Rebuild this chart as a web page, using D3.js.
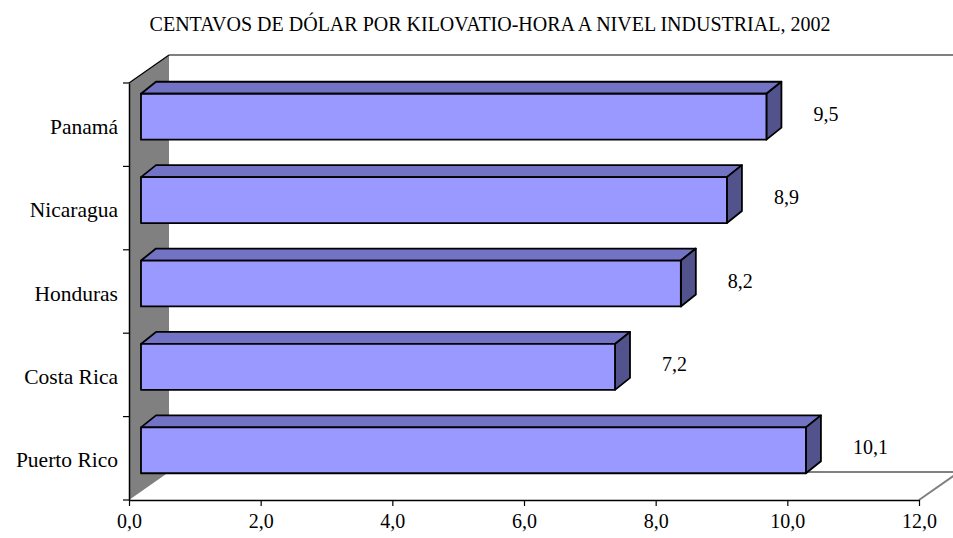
<!DOCTYPE html>
<html>
<head>
<meta charset="utf-8">
<script src="https://cdn.jsdelivr.net/npm/d3@7"></script>
<style>
  body { margin: 0; background: #fff; }
  svg text { font-family: "Liberation Serif", "Times New Roman", serif; fill: #000; }
</style>
</head>
<body>
<div id="chart"></div>
<script>
'use strict';

// chart data
var title = 'CENTAVOS DE DÓLAR POR KILOVATIO-HORA A NIVEL INDUSTRIAL, 2002';
var categories = ['Panamá', 'Nicaragua', 'Honduras', 'Costa Rica', 'Puerto Rico'];
var values = [9.5, 8.9, 8.2, 7.2, 10.1];
var xTicks = [0, 2, 4, 6, 8, 10, 12];

var width = 953, height = 538;
var plotLeft = 129, plotRight = 919, plotTop = 83, plotBottom = 500;
var wallDx = 40, wallDy = -28;      // depth of the 3d box
var barOff = [12, -8];              // bar front face, from the front plane
var barDepth = [15, -12];           // bar thickness in depth
var barFrac = 0.55;                 // bar height as part of band
var serif = '"Liberation Serif", "Times New Roman", serif';

var fmt = function (v) { return d3.format('.1f')(v).replace('.', ','); };

var svg = d3.select('#chart').append('svg')
    .attr('width', width)
    .attr('height', height);

var x = d3.scaleLinear().domain([0, 12]).range([plotLeft, plotRight]);
var y = d3.scaleBand().domain(categories).range([plotTop, plotBottom]);

// title
svg.append('text')
    .attr('x', 490)
    .attr('y', 31)
    .attr('text-anchor', 'middle')
    .style('font-family', serif)
    .style('font-size', '20px')
    .text(title);

// left wall
svg.append('path')
    .attr('d', d3.line()([
        [plotLeft, plotTop], [plotLeft + wallDx, plotTop + wallDy],
        [plotLeft + wallDx, plotBottom + wallDy], [plotLeft, plotBottom]
    ]))
    .attr('fill', '#808080');

// back wall top and floor back edges
var grey = svg.append('g')
    .attr('stroke', '#808080')
    .attr('stroke-width', 2)
    .attr('fill', 'none');
grey.append('line')
    .attr('x1', plotLeft + wallDx).attr('y1', plotTop + wallDy)
    .attr('x2', plotRight + wallDx).attr('y2', plotTop + wallDy);
grey.append('line')
    .attr('x1', plotLeft + wallDx).attr('y1', plotBottom + wallDy)
    .attr('x2', plotRight + wallDx).attr('y2', plotBottom + wallDy);
grey.append('line')
    .attr('x1', plotRight).attr('y1', plotBottom)
    .attr('x2', plotRight + wallDx).attr('y2', plotBottom + wallDy);

// wall top edge
svg.append('line')
    .attr('x1', plotLeft).attr('y1', plotTop)
    .attr('x2', plotLeft + wallDx).attr('y2', plotTop + wallDy)
    .attr('stroke', '#000')
    .attr('stroke-width', 1.2);

// axes
var xAxis = svg.append('g')
    .attr('transform', 'translate(0,' + plotBottom + ')')
    .call(d3.axisBottom(x).tickValues(xTicks).tickFormat(fmt).tickSize(6).tickSizeOuter(0));
xAxis.attr('font-family', null);
xAxis.select('.domain').attr('stroke', '#000').attr('stroke-width', 1.5);
xAxis.selectAll('.tick line').attr('stroke', '#000').attr('stroke-width', 1.2);
xAxis.selectAll('.tick text')
    .attr('y', 14)
    .attr('dy', '0.71em')
    .style('font-size', '20px')
    .style('font-family', serif);

var yAxis = svg.append('g')
    .attr('transform', 'translate(' + plotLeft + ',0)')
    .call(d3.axisLeft(y).tickSize(0).tickSizeOuter(0).tickFormat(''));
yAxis.select('.domain').attr('stroke', '#000').attr('stroke-width', 1.5);

// band separator ticks
var bounds = categories.map(function (c) { return y(c); }).concat([plotBottom]);
svg.selectAll('.ytick')
    .data(bounds)
    .enter().append('line')
    .attr('class', 'ytick')
    .attr('x1', plotLeft - 6).attr('x2', plotLeft)
    .attr('y1', function (d) { return d; })
    .attr('y2', function (d) { return d; })
    .attr('stroke', '#000')
    .attr('stroke-width', 1.2);

// category labels
svg.selectAll('.cat')
    .data(categories)
    .enter().append('text')
    .attr('class', 'cat')
    .attr('x', 118)
    .attr('y', function (d) { return y(d) + y.bandwidth() / 2 + 9; })
    .attr('text-anchor', 'end')
    .style('font-family', serif)
    .style('font-size', '21.5px')
    .text(function (d) { return d; });

// bars
var bh = y.bandwidth() * barFrac;
var bars = svg.selectAll('.bar')
    .data(categories.map(function (c, i) { return { cat: c, v: values[i] }; }))
    .enter().append('g')
    .attr('class', 'bar');

function face(pts) { return d3.line()(pts) + 'Z'; }

bars.each(function (d) {
    var g = d3.select(this);
    var yc = y(d.cat) + y.bandwidth() / 2;
    var x0 = x(0) + barOff[0], x1 = x(d.v) + barOff[0];
    var y0 = yc - bh / 2 + barOff[1], y1 = yc + bh / 2 + barOff[1];
    var dx = barDepth[0], dy = barDepth[1];

    // top
    g.append('path')
        .attr('d', face([[x0, y0], [x0 + dx, y0 + dy], [x1 + dx, y0 + dy], [x1, y0]]))
        .attr('fill', '#7373C6');
    // side
    g.append('path')
        .attr('d', face([[x1, y0], [x1 + dx, y0 + dy], [x1 + dx, y1 + dy], [x1, y1]]))
        .attr('fill', '#52528C');
    // front
    g.append('path')
        .attr('d', face([[x0, y0], [x1, y0], [x1, y1], [x0, y1]]))
        .attr('fill', '#9999FF');
    g.selectAll('path')
        .attr('stroke', '#000')
        .attr('stroke-width', 1.8)
        .attr('stroke-linejoin', 'round');

    // value label
    g.append('text')
        .attr('x', x(d.v) + 59)
        .attr('y', yc - 4)
        .style('font-family', serif)
        .style('font-size', '20px')
        .text(fmt(d.v));
});
</script>
</body>
</html>
